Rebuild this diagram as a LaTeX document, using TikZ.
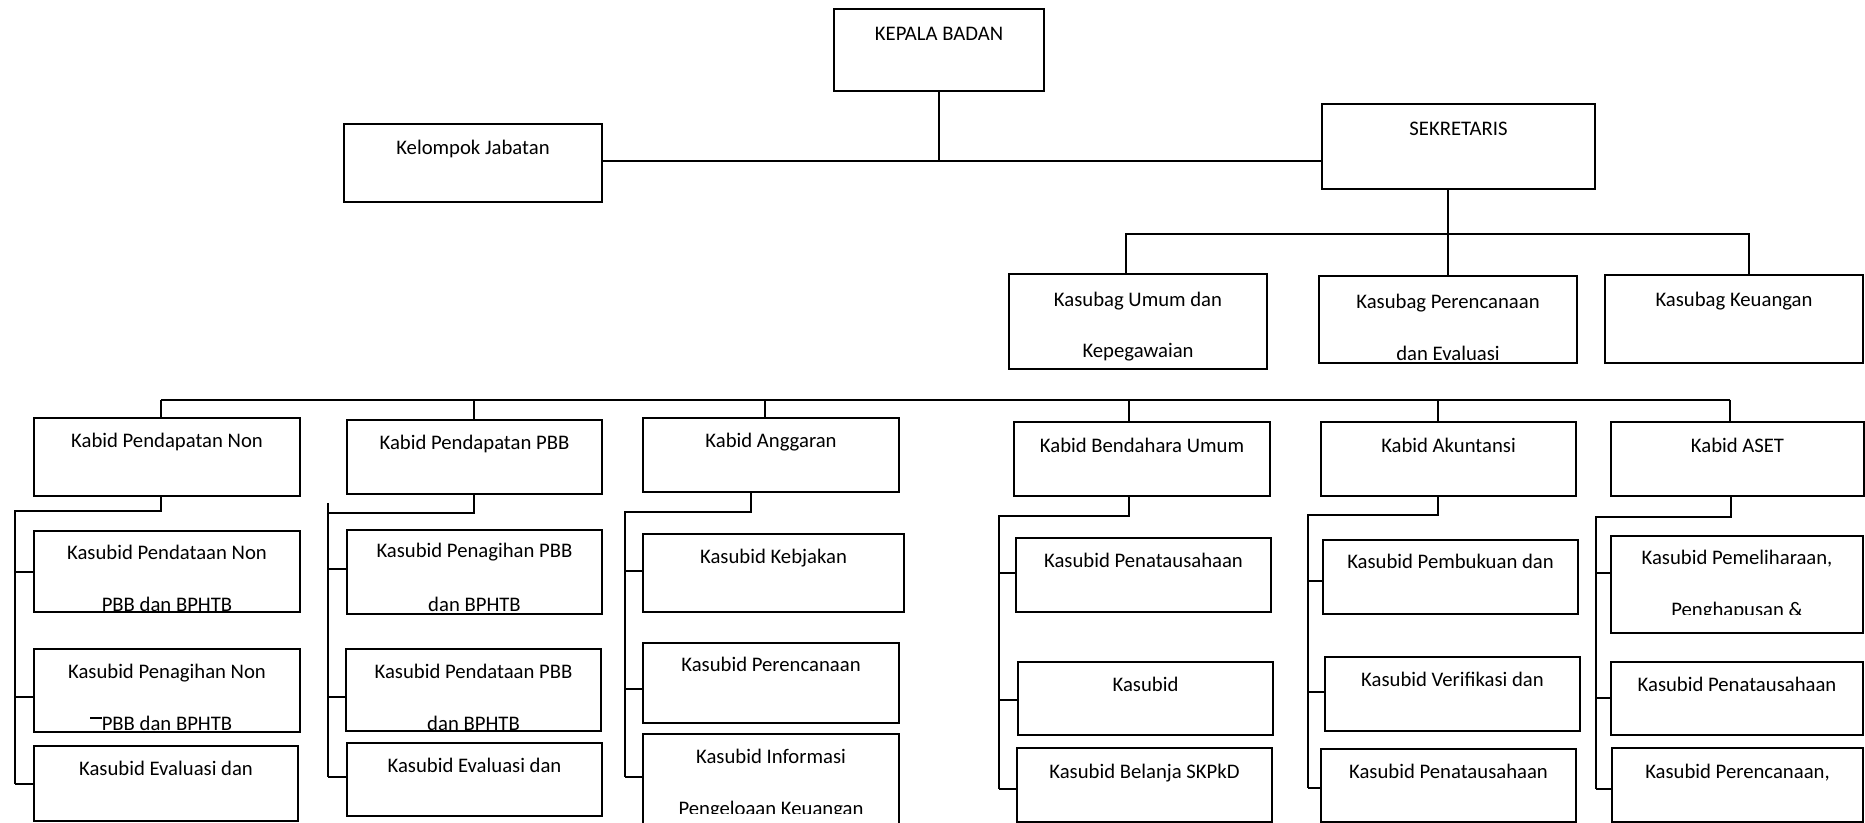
\documentclass[tikz,border=0pt]{standalone}
\usepackage{fontspec}
\setmainfont{Carlito}
\usetikzlibrary{fit}

\begin{document}
\begin{tikzpicture}[x=0.5pt,y=0.5pt,yscale=-1,xscale=1,
  box/.style={draw, line width=1pt, inner sep=0pt},
  txt/.style={anchor=base, inner sep=0pt, font=\fontsize{10.35}{12}\selectfont},
  conn/.style={line width=1pt}]
%set diagram size to 1865 x 823
\useasboundingbox (0,0) rectangle (1865,823);
\clip (0,0) rectangle (1865,823);

%Shape: Rectangle [top level]
\node [box, fit={(834,9) (1044,91)}] (kepala) {};
\node [box, fit={(344,124) (602,202)}] (kelompok) {};
\node [box, fit={(1322,104) (1595,189)}] (sekretaris) {};
\node [box, fit={(1009,274) (1267,369)}] (umum) {};
\node [box, fit={(1319,276) (1577,363)}] (renc) {};
\node [box, fit={(1605,275) (1863,363)}] (keu) {};
%Shape: Rectangle [kabid]
\node [box, fit={(34,418) (300,496)}] (kpn) {};
\node [box, fit={(347,420) (602,494)}] (kpbb) {};
\node [box, fit={(643,418) (899,492)}] (kang) {};
\node [box, fit={(1014,422) (1270,496)}] (kbend) {};
\node [box, fit={(1321,422) (1576,496)}] (kak) {};
\node [box, fit={(1611,422) (1864,496)}] (kaset) {};
%Shape: Rectangle [kasubid]
\node [box, fit={(34,531) (300,612)}] (s11) {};
\node [box, fit={(34,649) (300,732)}] (s12) {};
\node [box, fit={(34,746) (298,821)}] (s13) {};
\node [box, fit={(347,530) (602,614)}] (s21) {};
\node [box, fit={(346,649) (601,731)}] (s22) {};
\node [box, fit={(347,743) (602,816)}] (s23) {};
\node [box, fit={(643,534) (904,612)}] (s31) {};
\node [box, fit={(643,643) (899,723)}] (s32) {};
\node [box, fit={(643,734) (899,840)}] (s33) {};
\node [box, fit={(1016,538) (1271,612)}] (s41) {};
\node [box, fit={(1018,662) (1273,735)}] (s42) {};
\node [box, fit={(1017,748) (1272,822)}] (s43) {};
\node [box, fit={(1323,540) (1578,614)}] (s51) {};
\node [box, fit={(1325,657) (1580,731)}] (s52) {};
\node [box, fit={(1321,749) (1576,822)}] (s53) {};
\node [box, fit={(1611,536) (1863,633)}] (s61) {};
\node [box, fit={(1611,662) (1863,735)}] (s62) {};
\node [box, fit={(1612,748) (1863,822)}] (s63) {};

%Straight Lines [kepala, kelompok, sekretaris]
\coordinate (kj) at (939,161);
\draw [conn] (kepala.south) -- (kj);
\draw [conn] (kelompok.east |- kj) -- (sekretaris.west |- kj);
%Straight Lines [kasubag]
\coordinate (sb1) at (1126,234);
\coordinate (sb2) at (1749,234);
\draw [conn] (renc.north |- sekretaris.south) -- (renc.north);
\draw [conn] (sb1 |- umum.north) -- (sb1) -- (sb2) -- (sb2 |- keu.north);

%Straight Lines [kabid bar]
\coordinate (d1) at (161,400);
\coordinate (d2) at (474,400);
\coordinate (d3) at (765,400);
\coordinate (d4) at (1129,400);
\coordinate (d5) at (1438,400);
\coordinate (d6) at (1730,400);
\draw [conn] (d1) -- (d6);
\draw [conn] (d1) -- (d1 |- kpn.north);
\draw [conn] (d2) -- (d2 |- kpbb.north);
\draw [conn] (d3) -- (d3 |- kang.north);
\draw [conn] (d4) -- (d4 |- kbend.north);
\draw [conn] (d5) -- (d5 |- kak.north);
\draw [conn] (d6) -- (d6 |- kaset.north);

%Straight Lines [Kabid Pendapatan Non]
\coordinate (c1) at (161,511);
\coordinate (c1a) at (15,572);
\coordinate (c1b) at (15,697);
\coordinate (c1c) at (15,784);
\draw [conn] (c1 |- kpn.south) -- (c1) -| (c1c);
\draw [conn] (c1a) -- (c1a -| s11.west);
\draw [conn] (c1b) -- (c1b -| s12.west);
\draw [conn] (c1c) -- (c1c -| s13.west);
\draw [conn] (90,718) -- (102,718);
%Straight Lines [Kabid Pendapatan PBB]
\coordinate (c2) at (474,513);
\coordinate (c2t) at (328,503);
\coordinate (c2a) at (328,569);
\coordinate (c2b) at (328,697);
\coordinate (c2c) at (328,777);
\draw [conn] (c2 |- kpbb.south) -- (c2) -- (c2 -| c2t);
\draw [conn] (c2t) -- (c2c);
\draw [conn] (c2a) -- (c2a -| s21.west);
\draw [conn] (c2b) -- (c2b -| s22.west);
\draw [conn] (c2c) -- (c2c -| s23.west);
%Straight Lines [Kabid Anggaran]
\coordinate (c3) at (751,512);
\coordinate (c3a) at (625,571);
\coordinate (c3b) at (625,689);
\coordinate (c3c) at (625,777);
\draw [conn] (c3 |- kang.south) -- (c3) -| (c3c);
\draw [conn] (c3a) -- (c3a -| s31.west);
\draw [conn] (c3b) -- (c3b -| s32.west);
\draw [conn] (c3c) -- (c3c -| s33.west);
%Straight Lines [Kabid Bendahara Umum]
\coordinate (c4) at (1129,516);
\coordinate (c4a) at (999,573);
\coordinate (c4b) at (999,700);
\coordinate (c4c) at (999,789);
\draw [conn] (c4 |- kbend.south) -- (c4) -| (c4c);
\draw [conn] (c4a) -- (c4a -| s41.west);
\draw [conn] (c4b) -- (c4b -| s42.west);
\draw [conn] (c4c) -- (c4c -| s43.west);
%Straight Lines [Kabid Akuntansi]
\coordinate (c5) at (1438,515);
\coordinate (c5a) at (1308,581);
\coordinate (c5b) at (1308,692);
\coordinate (c5c) at (1308,788);
\draw [conn] (c5 |- kak.south) -- (c5) -| (c5c);
\draw [conn] (c5a) -- (c5a -| s51.west);
\draw [conn] (c5b) -- (c5b -| s52.west);
\draw [conn] (c5c) -- (c5c -| s53.west);
%Straight Lines [Kabid ASET]
\coordinate (c6) at (1731,517);
\coordinate (c6a) at (1596,573);
\coordinate (c6b) at (1596,698);
\coordinate (c6c) at (1596,789);
\draw [conn] (c6 |- kaset.south) -- (c6) -| (c6c);
\draw [conn] (c6a) -- (c6a -| s61.west);
\draw [conn] (c6b) -- (c6b -| s62.west);
\draw [conn] (c6c) -- (c6c -| s63.west);

% Text Node
\node [txt] (kepala-t) at (kepala.north |- 0,41) {KEPALA BADAN};
\node [txt] (kelompok-t) at (kelompok.north |- 0,155) {Kelompok Jabatan};
\node [txt] (sekretaris-t) at (sekretaris.north |- 0,136) {SEKRETARIS};
\node [txt] (umum-t1) at (umum.north |- 0,307) {Kasubag Umum dan};
\node [txt] (umum-t2) at (umum.north |- 0,358) {Kepegawaian};
\node [txt] (renc-t1) at (renc.north |- 0,309) {Kasubag Perencanaan};
\node [txt] (renc-t2) at (renc.north |- 0,361) {dan Evaluasi};
\node [txt] (keu-t) at (keu.north |- 0,307) {Kasubag Keuangan};
% Text Node
\node [txt] (kpn-t) at (kpn.north |- 0,448) {Kabid Pendapatan Non};
\node [txt] (kpbb-t) at (kpbb.north |- 0,450) {Kabid Pendapatan PBB};
\node [txt] (kang-t) at (kang.north |- 0,448) {Kabid Anggaran};
\node [txt] (kbend-t) at (kbend.north |- 0,453) {Kabid Bendahara Umum};
\node [txt] (kak-t) at (kak.north |- 0,453) {Kabid Akuntansi};
\node [txt] (kaset-t) at (kaset.north |- 0,453) {Kabid ASET};
% Text Node
\node [txt] (s11-t1) at (s11.north |- 0,560) {Kasubid Pendataan Non};
\node [txt] (s11-t2) at (s11.north |- 0,612) {PBB dan BPHTB};
\node [txt] (s12-t1) at (s12.north |- 0,678) {Kasubid Penagihan Non};
\node [txt] (s12-t2) at (s12.north |- 0,730) {PBB dan BPHTB};
\node [txt] (s13-t) at (s13.north |- 0,775) {Kasubid Evaluasi dan};
\node [txt] (s21-t1) at (s21.north |- 0,558) {Kasubid Penagihan PBB};
\node [txt] (s21-t2) at (s21.north |- 0,611) {dan BPHTB};
\node [txt] (s22-t1) at (s22.north |- 0,678) {Kasubid Pendataan PBB};
\node [txt] (s22-t2) at (s22.north |- 0,730) {dan BPHTB};
\node [txt] (s23-t) at (s23.north |- 0,772) {Kasubid Evaluasi dan};
\node [txt] (s31-t) at (s31.north |- 0,564) {Kasubid Kebjakan};
\node [txt] (s32-t) at (s32.north |- 0,672) {Kasubid Perencanaan};
\node [txt] (s33-t1) at (s33.north |- 0,763) {Kasubid Informasi};
\begin{scope}
\clip (643,780) rectangle (899,813);
\node [txt] (s33-t2) at (s33.north |- 0,815) {Pengeloaan Keuangan};
\end{scope}
\node [txt] (s41-t) at (s41.north |- 0,568) {Kasubid Penatausahaan};
\node [txt] (s42-t) at (s42.north |- 0,691) {Kasubid};
\node [txt] (s43-t) at (s43.north |- 0,778) {Kasubid Belanja SKPkD};
\node [txt] (s51-t) at (s51.north |- 0,569) {Kasubid Pembukuan dan};
\node [txt] (s52-t) at (s52.north |- 0,686) {Kasubid Verifikasi dan};
\node [txt] (s53-t) at (s53.north |- 0,778) {Kasubid Penatausahaan};
\node [txt] (s61-t1) at (s61.north |- 0,565) {Kasubid Pemeliharaan,};
\begin{scope}
\clip (1611,580) rectangle (1863,615);
\node [txt] (s61-t2) at (s61.north |- 0,617) {Penghapusan \&};
\end{scope}
\node [txt] (s62-t) at (s62.north |- 0,691) {Kasubid Penatausahaan};
\node [txt] (s63-t) at (s63.north |- 0,778) {Kasubid Perencanaan,};

\end{tikzpicture}
\end{document}
